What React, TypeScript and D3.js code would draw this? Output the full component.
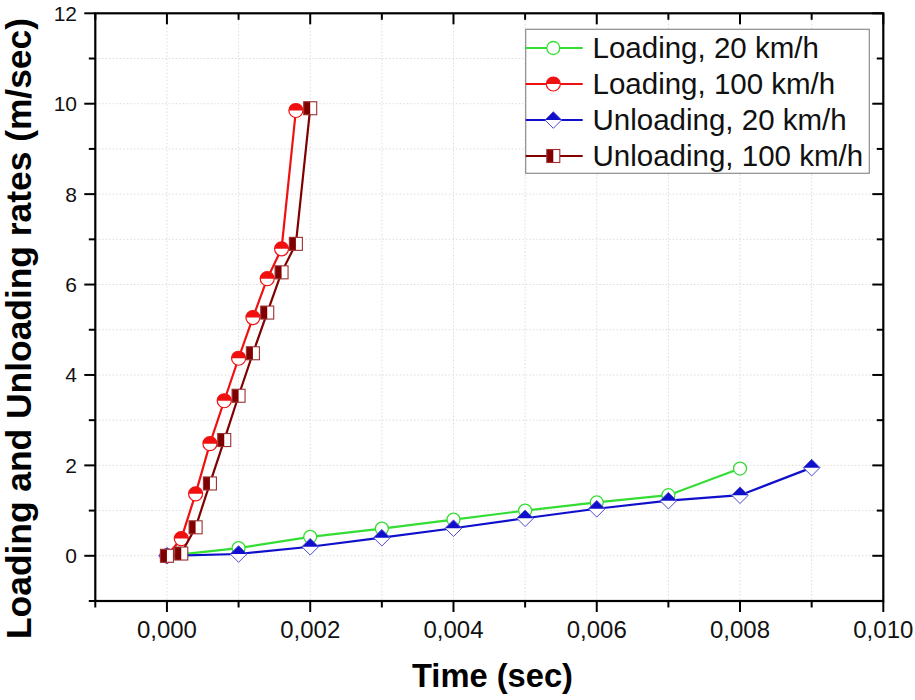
import React from "react";
import * as d3 from "d3";

// ---- data ----
const timeLoad20 = [0, 0.001, 0.002, 0.003, 0.004, 0.005, 0.006, 0.007, 0.008];
const rateLoad20 = [0, 0.17, 0.42, 0.6, 0.8, 1.0, 1.18, 1.34, 1.93];

const timeLoad100 = [0, 0.0002, 0.0004, 0.0006, 0.0008, 0.001, 0.0012, 0.0014, 0.0016, 0.0018];
const rateLoad100 = [0, 0.38, 1.37, 2.48, 3.43, 4.37, 5.27, 6.13, 6.79, 9.85];

const timeUnload20 = [0, 0.001, 0.002, 0.003, 0.004, 0.005, 0.006, 0.007, 0.008, 0.009];
const rateUnload20 = [0, 0.04, 0.2, 0.4, 0.61, 0.83, 1.04, 1.22, 1.34, 1.95];

const timeUnload100 = [0, 0.0002, 0.0004, 0.0006, 0.0008, 0.001, 0.0012, 0.0014, 0.0016, 0.0018, 0.002];
const rateUnload100 = [0, 0.05, 0.63, 1.6, 2.56, 3.54, 4.48, 5.38, 6.27, 6.9, 9.9];

const seriesNames = ["Loading, 20 km/h", "Loading, 100 km/h", "Unloading, 20 km/h", "Unloading, 100 km/h"];

const xMajorTicks = [0, 0.002, 0.004, 0.006, 0.008, 0.01];
const xTickLabels = ["0,000", "0,002", "0,004", "0,006", "0,008", "0,010"];
const xMinorTicks = [-0.001, 0.001, 0.003, 0.005, 0.007, 0.009];
const yMajorTicks = [0, 2, 4, 6, 8, 10, 12];
const yTickLabels = ["0", "2", "4", "6", "8", "10", "12"];
const yMinorTicks = [-1, 1, 3, 5, 7, 9, 11];
const xGrid = [-0.001, 0, 0.001, 0.002, 0.003, 0.004, 0.005, 0.006, 0.007, 0.008, 0.009, 0.01];
const yGrid = [-1, 0, 1, 2, 3, 4, 5, 6, 7, 8, 9, 10, 11, 12];

const xTitle = "Time (sec)";
const yTitle = "Loading and Unloading rates (m/sec)";

// ---- layout ----
const W = 915, H = 700;
const L = 95.3, R = 883.3, T = 13.3, B = 601;
const FONT = "Arial, 'Liberation Sans', sans-serif";

const x = d3.scaleLinear().domain([-0.001, 0.01]).range([L, R]);
const y = d3.scaleLinear().domain([-1, 12]).range([B, T]);

const GREEN = "#33dd33";
const RED = "#f01010";
const BLUE = "#1010cc";
const WINE = "#800000";

type Kind = "circle" | "halfcircle" | "diamond" | "square";

function Marker({ kind, cx, cy }: { kind: Kind; cx: number; cy: number }) {
  if (kind === "circle") {
    return <circle cx={cx} cy={cy} r={6.5} fill="white" stroke={GREEN} strokeWidth={1.3} />;
  }
  if (kind === "halfcircle") {
    const r = 7;
    return (
      <g>
        <circle cx={cx} cy={cy} r={r} fill="white" />
        <path d={`M${cx - r},${cy} A${r},${r} 0 0 1 ${cx + r},${cy} Z`} fill={RED} />
        <circle cx={cx} cy={cy} r={r} fill="none" stroke={RED} strokeWidth={1.2} />
      </g>
    );
  }
  if (kind === "diamond") {
    const h = 8.3;
    return (
      <g>
        <path d={`M${cx - h},${cy} L${cx},${cy - h} L${cx + h},${cy} L${cx},${cy + h} Z`} fill="white" />
        <path d={`M${cx - h},${cy} L${cx},${cy - h} L${cx + h},${cy} Z`} fill={BLUE} />
        <path d={`M${cx - h},${cy} L${cx},${cy - h} L${cx + h},${cy} L${cx},${cy + h} Z`} fill="none" stroke="#4a4ad0" strokeWidth={1} />
      </g>
    );
  }
  const s = 6.5;
  return (
    <g>
      <rect x={cx - s} y={cy - s} width={2 * s} height={2 * s} fill="white" />
      <rect x={cx - s} y={cy - s} width={s} height={2 * s} fill={WINE} />
      <rect x={cx - s} y={cy - s} width={2 * s} height={2 * s} fill="none" stroke="#9a3030" strokeWidth={1.1} />
    </g>
  );
}

const series = [
  { name: seriesNames[0], xs: timeLoad20, ys: rateLoad20, color: GREEN, kind: "circle" as Kind },
  { name: seriesNames[1], xs: timeLoad100, ys: rateLoad100, color: RED, kind: "halfcircle" as Kind },
  { name: seriesNames[2], xs: timeUnload20, ys: rateUnload20, color: BLUE, kind: "diamond" as Kind },
  { name: seriesNames[3], xs: timeUnload100, ys: rateUnload100, color: WINE, kind: "square" as Kind },
];

export default function App() {
  const line = d3.line<[number, number]>().x((d) => x(d[0])).y((d) => y(d[1]));

  const legX = 525.7, legY = 29.3, legW = 343.6, legH = 144;
  const rowY = [48, 84, 120, 156];

  return (
    <svg width={W} height={H} style={{ position: "absolute", left: 0, top: 0, background: "white" }} fontFamily={FONT}>
      <rect x={0} y={0} width={W} height={H} fill="white" />
      {/* grid */}
      <g stroke="#dcdcdc" strokeWidth={1} strokeDasharray="1.5,2">
        {xGrid.map((v, i) => (
          <line key={"gx" + i} x1={x(v)} x2={x(v)} y1={T} y2={B} />
        ))}
        {yGrid.map((v, i) => (
          <line key={"gy" + i} x1={L} x2={R} y1={y(v)} y2={y(v)} />
        ))}
      </g>

      {/* series */}
      {series.map((s, si) => {
        const pts = s.xs.map((xv, i) => [xv, s.ys[i]] as [number, number]);
        return (
          <g key={"s" + si}>
            <path d={line(pts) || ""} fill="none" stroke={s.color} strokeWidth={2.2} />
            {pts.map((p, i) => (
              <Marker key={i} kind={s.kind} cx={x(p[0])} cy={y(p[1])} />
            ))}
          </g>
        );
      })}

      {/* frame */}
      <rect x={L} y={T} width={R - L} height={B - T} fill="none" stroke="black" strokeWidth={2.2} />

      {/* ticks */}
      <g stroke="black" strokeWidth={2}>
        {xMajorTicks.map((v, i) => (
          <g key={"xM" + i}>
            <line x1={x(v)} x2={x(v)} y1={B} y2={B + 11} />
            <line x1={x(v)} x2={x(v)} y1={T} y2={T + 11} />
          </g>
        ))}
        {xMinorTicks.map((v, i) => (
          <g key={"xm" + i}>
            <line x1={x(v)} x2={x(v)} y1={B} y2={B + 6.5} />
            <line x1={x(v)} x2={x(v)} y1={T} y2={T + 6.5} />
          </g>
        ))}
        {yMajorTicks.map((v, i) => (
          <g key={"yM" + i}>
            <line x1={L - 11} x2={L} y1={y(v)} y2={y(v)} />
            <line x1={R - 11} x2={R} y1={y(v)} y2={y(v)} />
          </g>
        ))}
        {yMinorTicks.map((v, i) => (
          <g key={"ym" + i}>
            <line x1={L - 6.5} x2={L} y1={y(v)} y2={y(v)} />
            <line x1={R - 6.5} x2={R} y1={y(v)} y2={y(v)} />
          </g>
        ))}
      </g>

      {/* tick labels */}
      {xMajorTicks.map((v, i) => (
        <text key={"xl" + i} x={x(v)} y={638} textAnchor="middle" fontSize={24} fill="#111">
          {xTickLabels[i]}
        </text>
      ))}
      {yMajorTicks.map((v, i) => (
        <text key={"yl" + i} x={77} y={y(v) + 7.5} textAnchor="end" fontSize={21} fill="#111">
          {yTickLabels[i]}
        </text>
      ))}

      {/* axis titles */}
      <text x={492.5} y={687} textAnchor="middle" fontSize={34} fontWeight="bold" textLength={161} lengthAdjust="spacingAndGlyphs">
        {xTitle}
      </text>
      <text
        transform={`translate(31,328.5) rotate(-90)`}
        textAnchor="middle"
        fontSize={35}
        fontWeight="bold"
        textLength={621}
        lengthAdjust="spacingAndGlyphs"
      >
        {yTitle}
      </text>

      {/* legend */}
      <rect x={legX} y={legY} width={legW} height={legH} fill="white" stroke="#8c8c8c" strokeWidth={1.2} />
      {series.map((s, i) => (
        <g key={"lg" + i}>
          <line x1={legX} x2={582.7} y1={rowY[i]} y2={rowY[i]} stroke={s.color} strokeWidth={2.2} />
          <Marker kind={s.kind} cx={553.3} cy={rowY[i]} />
          <text x={592.5} y={rowY[i] + 9.5} fontSize={29.5} fill="#111">
            {s.name}
          </text>
        </g>
      ))}
    </svg>
  );
}
